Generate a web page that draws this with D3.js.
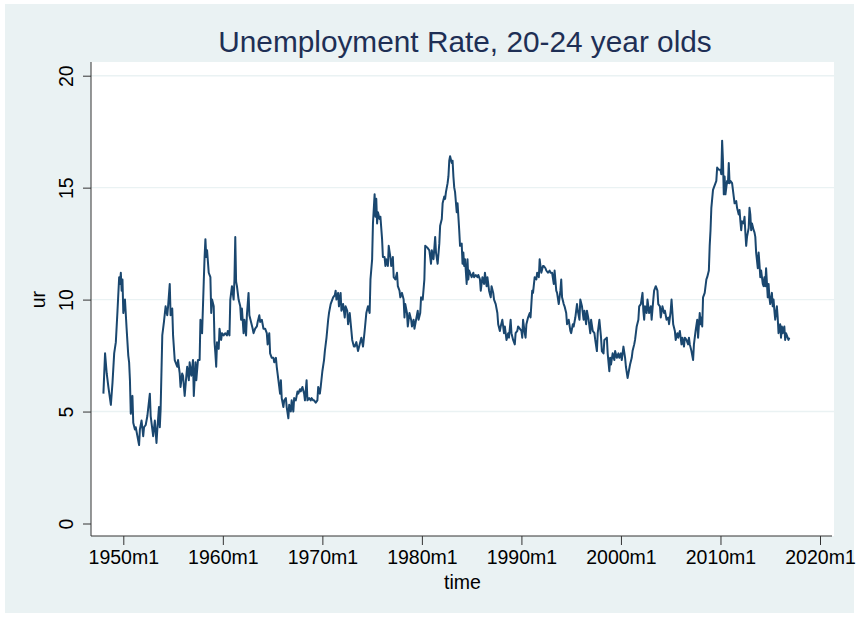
<!DOCTYPE html>
<html>
<head>
<meta charset="utf-8">
<script src="https://cdn.jsdelivr.net/npm/d3@7"></script>
<style>
  html, body { margin: 0; padding: 0; background: #ffffff; }
  svg { display: block; font-family: "Liberation Sans", Arial, sans-serif; }
</style>
</head>
<body>
<svg id="chart" width="859" height="618"></svg>
<script>
// ---- data: months since 1948m1 and unemployment rate (20-24 year olds) ----
const months = [
  0,2,4,6,9,11,13,15,17,19,20,21,22,23,24,26,28,30,31,32,33,35,36,38,39,41,43,44,46,48,49,51,53,56,57,59,60,62,64,65,67,68,69,71,73,75,77,78,80,81,83,84,86,89,90,92,93,95,
  96,98,100,101,103,104,106,108,109,111,112,114,116,117,119,121,122,123,124,125,127,129,130,131,133,134,135,136,137,139,140,142,143,145,147,149,150,152,153,155,157,158,159,160,161,163,165,166,167,169,170,172,173,175,176,178,180,181,183,185,186,188,189,191,193,
  195,197,198,200,201,203,205,206,208,209,211,213,214,215,217,218,220,221,223,224,226,227,229,230,232,234,235,237,238,240,242,243,245,246,248,250,251,253,254,256,258,259,261,262,264,266,267,269,271,272,274,275,277,279,280,281,283,284,286,287,289,291,292,294,295,297,299,300,302,303,
  305,307,309,311,313,315,317,319,321,322,324,325,327,328,329,330,331,333,334,336,337,339,340,341,343,344,346,347,349,350,352,354,355,357,358,360,362,363,364,366,367,369,371,372,374,375,377,379,380,382,383,385,387,388,391,393,395,396,398,
  400,401,403,405,406,408,409,411,412,413,415,416,417,418,420,421,422,423,424,426,427,428,429,430,432,433,434,435,436,438,439,440,441,442,444,446,447,449,451,452,454,455,457,459,460,462,463,465,467,468,470,471,473,475,476,478,479,481,483,484,486,488,489,491,492,494,496,497,499,500,502,
  504,505,506,508,509,510,512,514,515,517,518,520,522,523,525,526,528,530,531,533,534,536,538,539,541,543,544,546,547,549,551,552,553,555,556,558,559,561,563,564,566,567,569,571,572,574,575,577,579,580,582,583,585,587,588,590,592,593,595,596,598,600,601,603,604,
  607,608,610,611,612,614,616,617,619,621,622,624,625,627,629,630,632,633,635,637,638,640,641,643,645,646,648,650,651,652,653,655,656,658,660,661,663,664,666,668,669,671,672,674,676,677,679,681,682,684,685,687,689,690,692,693,695,697,698,700,701,703,705,706,
  707,709,711,712,714,716,717,719,720,721,722,723,725,727,728,730,731,732,733,735,736,738,739,740,742,744,745,746,747,748,749,750,752,753,754,755,756,758,760,761,763,764,766,767,768,769,770,772,773,774,775,776,778,779,780,781,782,784,785,786,787,789,790,791,792,793,795,796,797,798,799,801,802,803,804,806,807,808,809,810,812,813,814,816,817,818,819,821,822,823,825,826,827
];
const ur = [
  5.8,7.6,6.7,6.1,5.3,6.3,7.6,8.1,9.5,11.0,10.7,11.2,10.4,10.9,9.4,10.0,8.7,7.5,7.2,6.4,4.9,5.7,4.5,4.2,4.3,3.9,3.5,4.2,4.6,3.9,4.3,4.4,4.8,5.8,4.8,4.2,3.9,4.6,3.6,4.2,5.2,4.3,5.1,8.4,9.0,9.7,9.3,9.7,10.7,9.3,9.6,8.4,7.3,7.0,7.3,6.7,6.1,6.7,
  6.6,5.7,6.6,7.0,6.4,7.2,6.6,7.3,5.7,7.2,6.4,7.3,7.3,9.1,8.5,10.8,11.9,12.7,11.9,12.2,11.2,11.0,9.4,10.0,9.7,8.1,7.6,7.0,8.1,7.8,8.7,8.2,8.5,8.4,8.5,8.4,8.6,8.4,10.0,10.6,10.0,10.9,12.8,10.8,10.6,10.0,9.7,9.1,9.6,8.5,9.1,8.4,9.3,10.3,9.3,9.0,8.7,8.5,8.7,8.8,9.0,9.3,9.0,9.1,8.7,
  8.7,8.5,8.0,8.5,7.6,7.4,7.4,7.2,7.4,7.0,6.4,5.8,6.4,5.6,5.2,5.5,5.6,5.2,4.7,5.3,5.0,5.5,5.0,5.6,5.5,5.9,5.8,6.0,5.9,6.1,5.8,5.5,6.4,5.5,5.6,5.5,5.6,5.5,5.5,5.4,5.5,6.1,5.8,6.1,6.8,7.3,7.7,8.3,9.1,9.4,9.8,9.9,10.1,10.2,10.4,10.0,10.3,9.7,10.3,9.5,9.8,9.2,9.7,9.5,8.9,9.4,8.6,8.2,7.9,7.9,
  8.1,7.7,8.0,8.3,7.9,8.6,9.4,9.7,9.4,10.9,11.8,13.4,14.7,13.7,14.5,13.4,13.9,13.6,13.7,12.7,11.9,11.9,11.5,11.8,11.5,12.4,11.9,11.5,11.9,11.0,10.9,11.2,10.6,10.4,10.1,10.3,10.0,9.2,9.8,9.4,8.8,9.4,9.1,8.8,9.1,8.7,9.1,9.5,9.1,9.4,10.1,10.0,10.9,12.4,12.3,12.2,11.6,12.2,11.8,
  12.8,12.1,11.6,12.5,13.3,13.6,14.3,14.6,14.5,14.8,15.2,15.5,16.2,16.4,16.1,16.2,15.5,15.0,14.8,13.9,14.3,13.7,13.1,12.4,12.5,11.6,12.1,11.5,11.8,10.7,11.8,10.9,11.3,11.2,11.0,11.2,11.0,11.1,11.0,11.1,10.9,10.4,11.0,10.7,11.2,10.6,11.0,10.4,10.1,10.6,10.3,10.0,9.8,9.4,8.9,8.6,8.8,9.1,8.5,8.8,8.2,8.5,8.3,9.1,8.5,8.2,8.0,8.5,8.6,8.8,8.7,
  8.6,8.3,9.1,8.5,8.3,8.9,9.2,9.4,9.2,10.4,10.3,11.0,10.9,11.2,11.0,11.8,11.2,11.5,11.5,11.4,11.3,11.2,11.3,11.2,11.2,10.7,11.3,10.4,10.3,9.8,10.4,10.9,10.1,9.8,9.7,9.4,8.9,9.1,8.6,8.5,8.9,8.8,9.2,9.8,9.5,9.1,10.0,9.7,9.1,9.5,8.9,9.5,9.1,8.5,9.1,8.6,8.5,8.2,7.7,8.5,9.1,8.3,7.7,7.6,8.2,
  8.3,7.6,6.8,7.4,7.1,7.6,7.3,7.7,7.4,7.6,7.4,7.6,7.3,7.9,7.4,7.0,6.5,6.7,7.1,7.4,7.7,8.0,8.2,8.8,9.1,9.7,9.8,10.3,9.5,9.1,9.7,9.4,10.0,9.4,9.7,9.1,10.0,10.4,10.6,10.4,9.8,9.7,9.2,9.7,9.4,9.5,9.1,9.2,8.9,9.5,10.0,8.9,8.6,8.2,8.5,8.3,8.6,8.0,8.3,7.9,8.3,8.2,8.0,8.3,
  8.0,7.7,7.3,8.0,8.6,9.1,8.3,9.4,8.9,9.2,8.8,10.1,10.3,10.9,11.0,11.3,12.4,13.1,14.1,14.9,15.0,15.2,15.3,15.9,15.8,15.8,15.6,17.1,16.2,14.7,15.5,14.7,15.3,15.2,16.1,15.2,15.3,15.2,14.6,14.3,14.4,14.1,13.8,14.0,13.5,13.1,13.5,13.4,13.7,13.0,12.4,12.8,13.2,14.1,13.8,13.1,13.4,13.1,13.0,12.8,12.1,11.4,12.1,11.6,11.0,11.3,10.7,10.6,11.0,10.6,11.4,10.1,10.7,10.1,9.8,10.3,9.7,10.0,9.5,9.1,9.7,9.2,8.5,8.9,8.3,8.8,8.5,8.8,8.2,8.5,8.3,8.2,8.3
];
const xTickMonths = [24, 144, 264, 384, 504, 624, 744, 864];
const xTickLabels = ["1950m1", "1960m1", "1970m1", "1980m1", "1990m1", "2000m1", "2010m1", "2020m1"];
const yTicks = [0, 5, 10, 15, 20];
const titleText = "Unemployment Rate, 20-24 year olds";
const xTitle = "time";
const yTitle = "ur";

const data = months.map((m, i) => ({ m: m, v: ur[i] }));

const svg = d3.select("#chart");
const W = 859, H = 618;
const plot = { left: 91, right: 834, top: 62, bottom: 536 };

// graph region background
svg.append("rect").attr("x", 5).attr("y", 4).attr("width", W - 10).attr("height", H - 9)
  .attr("fill", "#eaf2f3");
// plot region
svg.append("rect").attr("x", plot.left).attr("y", plot.top)
  .attr("width", plot.right - plot.left).attr("height", plot.bottom - plot.top)
  .attr("fill", "#ffffff");

const x = d3.scaleLinear().domain([0, 864]).range([103.4, 820]);
const y = d3.scaleLinear().domain([0, 20]).range([523.5, 75.7]);

// gridlines
svg.append("g").selectAll("line").data(yTicks.filter(t => t > 0)).join("line")
  .attr("x1", plot.left).attr("x2", plot.right)
  .attr("y1", d => y(d)).attr("y2", d => y(d))
  .attr("stroke", "#eaf2f3").attr("stroke-width", 1.4);

// series line
svg.append("path").datum(data)
  .attr("fill", "none").attr("stroke", "#1a476f").attr("stroke-width", 2)
  .attr("stroke-linejoin", "round")
  .attr("d", d3.line().x(d => x(d.m)).y(d => y(d.v)));

// y axis
const yAxis = d3.axisLeft(y).tickValues(yTicks).tickSize(8).tickPadding(6).tickFormat(d3.format("d"));
const gy = svg.append("g").attr("transform", `translate(${plot.left},0)`).call(yAxis);
gy.select(".domain").attr("d", `M0,${plot.bottom}V${plot.top}`).attr("stroke", "#333").attr("stroke-width", 1);
gy.selectAll(".tick line").attr("stroke", "#333");
gy.selectAll(".tick text")
  .attr("font-size", 19.5).attr("fill", "#000").attr("font-family", "Liberation Sans, Arial, sans-serif")
  .attr("text-anchor", "middle").attr("dy", null).attr("x", null)
  .attr("transform", "translate(-18,0) rotate(-90)");

// x axis
const xAxis = d3.axisBottom(x).tickValues(xTickMonths).tickSize(9).tickPadding(5)
  .tickFormat((d, i) => xTickLabels[i]);
const gx = svg.append("g").attr("transform", `translate(0,${plot.bottom})`).call(xAxis);
gx.select(".domain").attr("d", `M${plot.left},0H${plot.right - 2}`).attr("stroke", "#333").attr("stroke-width", 1);
gx.selectAll(".tick line").attr("stroke", "#333");
gx.selectAll(".tick text")
  .attr("font-size", 19.5).attr("fill", "#000").attr("font-family", "Liberation Sans, Arial, sans-serif");

// axis titles
svg.append("text").attr("x", (plot.left + plot.right) / 2).attr("y", 589)
  .attr("text-anchor", "middle").attr("font-size", 19.5).attr("fill", "#000").text(xTitle);
svg.append("text").attr("transform", `translate(45,${y(10)}) rotate(-90)`)
  .attr("text-anchor", "middle").attr("font-size", 19.5).attr("fill", "#000").text(yTitle);

// title
svg.append("text").attr("x", 465).attr("y", 52)
  .attr("text-anchor", "middle").attr("font-size", 29.8).attr("fill", "#1e2f55").text(titleText);
</script>
</body>
</html>
